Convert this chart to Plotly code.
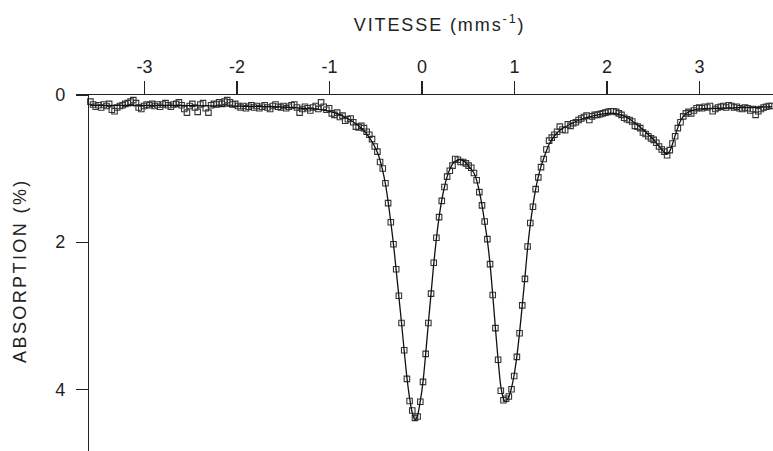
import plotly.graph_objects as go

# Velocity channels (mm/s) and measured absorption (%)
velocity = [
    -3.585, -3.556, -3.527, -3.498, -3.469, -3.440, -3.411, -3.382, -3.353, -3.324,
    -3.295, -3.266, -3.237, -3.208, -3.179, -3.150, -3.121, -3.092, -3.063, -3.034,
    -3.005, -2.976, -2.947, -2.918, -2.889, -2.860, -2.831, -2.802, -2.773, -2.744,
    -2.715, -2.686, -2.657, -2.628, -2.599, -2.570, -2.541, -2.512, -2.483, -2.454,
    -2.425, -2.396, -2.367, -2.338, -2.309, -2.280, -2.251, -2.222, -2.193, -2.164,
    -2.135, -2.106, -2.077, -2.048, -2.019, -1.990, -1.961, -1.932, -1.903, -1.874,
    -1.845, -1.816, -1.787, -1.758, -1.729, -1.700, -1.671, -1.642, -1.613, -1.584,
    -1.555, -1.526, -1.497, -1.468, -1.439, -1.410, -1.381, -1.352, -1.323, -1.294,
    -1.265, -1.236, -1.207, -1.178, -1.149, -1.120, -1.091, -1.062, -1.033, -1.004,
    -0.975, -0.946, -0.917, -0.888, -0.859, -0.830, -0.801, -0.772, -0.743, -0.714,
    -0.685, -0.656, -0.627, -0.598, -0.569, -0.540, -0.511, -0.482, -0.453, -0.424,
    -0.395, -0.366, -0.337, -0.308, -0.279, -0.250, -0.221, -0.192, -0.163, -0.134,
    -0.105, -0.076, -0.047, -0.018, 0.011, 0.040, 0.069, 0.098, 0.127, 0.156,
    0.185, 0.214, 0.243, 0.272, 0.301, 0.330, 0.359, 0.388, 0.417, 0.446,
    0.475, 0.504, 0.533, 0.562, 0.591, 0.620, 0.649, 0.678, 0.707, 0.736,
    0.765, 0.794, 0.823, 0.852, 0.881, 0.910, 0.939, 0.968, 0.997, 1.026,
    1.055, 1.084, 1.113, 1.142, 1.171, 1.200, 1.229, 1.258, 1.287, 1.316,
    1.345, 1.374, 1.403, 1.432, 1.461, 1.490, 1.519, 1.548, 1.577, 1.606,
    1.635, 1.664, 1.693, 1.722, 1.751, 1.780, 1.809, 1.838, 1.867, 1.896,
    1.925, 1.954, 1.983, 2.012, 2.041, 2.070, 2.099, 2.128, 2.157, 2.186,
    2.215, 2.244, 2.273, 2.302, 2.331, 2.360, 2.389, 2.418, 2.447, 2.476,
    2.505, 2.534, 2.563, 2.592, 2.621, 2.650, 2.679, 2.708, 2.737, 2.766,
    2.795, 2.824, 2.853, 2.882, 2.911, 2.940, 2.969, 2.998, 3.027, 3.056,
    3.085, 3.114, 3.143, 3.172, 3.201, 3.230, 3.259, 3.288, 3.317, 3.346,
    3.375, 3.404, 3.433, 3.462, 3.491, 3.520, 3.549, 3.578, 3.607, 3.636,
    3.665, 3.694, 3.723, 3.752, 3.781,
]

absorption = [
    0.09, 0.13, 0.16, 0.14, 0.17, 0.13, 0.15, 0.12, 0.20, 0.22,
    0.17, 0.15, 0.14, 0.12, 0.11, 0.09, 0.07, 0.11, 0.17, 0.19,
    0.15, 0.13, 0.14, 0.12, 0.15, 0.13, 0.16, 0.13, 0.11, 0.14,
    0.16, 0.13, 0.12, 0.10, 0.14, 0.19, 0.24, 0.15, 0.12, 0.17,
    0.23, 0.13, 0.11, 0.18, 0.24, 0.14, 0.12, 0.13, 0.10, 0.12,
    0.09, 0.07, 0.10, 0.13, 0.12, 0.15, 0.17, 0.15, 0.18, 0.16,
    0.14, 0.17, 0.15, 0.18, 0.16, 0.14, 0.17, 0.19, 0.15, 0.13,
    0.16, 0.17, 0.15, 0.18, 0.16, 0.14, 0.13, 0.17, 0.24, 0.19,
    0.16, 0.18, 0.21, 0.17, 0.15, 0.19, 0.10, 0.16, 0.20, 0.18,
    0.25, 0.27, 0.24, 0.30, 0.28, 0.35, 0.33, 0.32, 0.37, 0.43,
    0.44, 0.42, 0.45, 0.50, 0.54, 0.60, 0.70, 0.77, 0.91, 1.00,
    1.20, 1.47, 1.73, 2.03, 2.37, 2.73, 3.10, 3.47, 3.86, 4.16,
    4.29, 4.39, 4.37, 4.17, 3.90, 3.52, 3.10, 2.70, 2.28, 1.94,
    1.66, 1.44, 1.25, 1.11, 1.03, 0.96, 0.87, 0.88, 0.91, 0.91,
    0.93, 0.96, 0.99, 1.06, 1.16, 1.32, 1.50, 1.72, 1.96, 2.30,
    2.72, 3.17, 3.60, 4.02, 4.15, 4.13, 4.10, 4.00, 3.82, 3.56,
    3.24, 2.86, 2.50, 2.06, 1.74, 1.52, 1.28, 1.12, 0.98, 0.87,
    0.74, 0.62, 0.58, 0.54, 0.50, 0.43, 0.47, 0.48, 0.40, 0.42,
    0.385, 0.37, 0.34, 0.32, 0.30, 0.28, 0.34, 0.29, 0.27, 0.27,
    0.26, 0.25, 0.24, 0.23, 0.22, 0.22, 0.23, 0.25, 0.27, 0.31,
    0.33, 0.34, 0.36, 0.42, 0.43, 0.45, 0.51, 0.53, 0.56, 0.59,
    0.61, 0.65, 0.70, 0.74, 0.77, 0.82, 0.75, 0.66, 0.56, 0.45,
    0.37, 0.29, 0.25, 0.23, 0.25, 0.21, 0.18, 0.17, 0.18, 0.16,
    0.17, 0.15, 0.22, 0.19, 0.17, 0.16, 0.15, 0.17, 0.14, 0.15,
    0.17, 0.16, 0.18, 0.19, 0.17, 0.18, 0.21, 0.19, 0.27, 0.22,
    0.19, 0.17, 0.16, 0.15, 0.15,
]

# Fitted curve, read at key velocities
fit_velocity = [
    -3.585, -3.0, -2.5, -2.0, -1.6, -1.3, -1.1, -0.95, -0.85, -0.75,
    -0.65, -0.58, -0.52, -0.47, -0.43, -0.395, -0.366, -0.337, -0.308, -0.279,
    -0.250, -0.221, -0.192, -0.163, -0.134, -0.105, -0.076, -0.047, -0.018, 0.011,
    0.040, 0.069, 0.098, 0.127, 0.156, 0.185, 0.214, 0.243, 0.272, 0.301,
    0.330, 0.36, 0.40, 0.44, 0.48, 0.52, 0.562, 0.591, 0.620, 0.649,
    0.678, 0.707, 0.736, 0.765, 0.794, 0.823, 0.852, 0.881, 0.905, 0.939,
    0.968, 0.997, 1.026, 1.055, 1.084, 1.113, 1.142, 1.171, 1.200, 1.229,
    1.258, 1.287, 1.316, 1.345, 1.374, 1.403, 1.45, 1.50, 1.60, 1.70,
    1.80, 1.90, 2.00, 2.08, 2.15, 2.22, 2.30, 2.38, 2.45, 2.52,
    2.58, 2.63, 2.655, 2.68, 2.71, 2.74, 2.77, 2.80, 2.84, 2.90,
    3.00, 3.2, 3.5, 3.781,
]
fit_absorption = [
    0.14, 0.14, 0.145, 0.15, 0.16, 0.18, 0.20, 0.24, 0.29, 0.36,
    0.46, 0.56, 0.68, 0.82, 1.00, 1.21, 1.45, 1.73, 2.03, 2.38,
    2.74, 3.10, 3.48, 3.84, 4.12, 4.32, 4.42, 4.35, 4.16, 3.90,
    3.52, 3.10, 2.70, 2.30, 1.95, 1.66, 1.43, 1.25, 1.11, 1.01,
    0.94, 0.90, 0.88, 0.89, 0.93, 0.99, 1.06, 1.16, 1.31, 1.50,
    1.73, 1.98, 2.30, 2.72, 3.17, 3.60, 3.96, 4.13, 4.17, 4.10,
    3.98, 3.80, 3.55, 3.23, 2.86, 2.48, 2.08, 1.76, 1.50, 1.28,
    1.11, 0.97, 0.86, 0.76, 0.67, 0.61, 0.53, 0.47, 0.40, 0.34,
    0.30, 0.27, 0.25, 0.25, 0.27, 0.31, 0.38, 0.46, 0.54, 0.63,
    0.72, 0.79, 0.80, 0.76, 0.66, 0.54, 0.43, 0.34, 0.27, 0.22,
    0.19, 0.18, 0.17, 0.16,
]

x_ticks = [-3, -2, -1, 0, 1, 2, 3]
y_ticks = [0, 2, 4]

FONT = "Liberation Sans, Arial, Helvetica, sans-serif"
INK = "#222222"

fig = go.Figure()
fig.add_trace(go.Scatter(
    x=velocity, y=absorption, mode="markers",
    marker=dict(symbol="square-open", size=5.5, color="#333333",
                line=dict(width=1.1, color="#333333")),
    cliponaxis=False, showlegend=False, hoverinfo="skip",
))
fig.add_trace(go.Scatter(
    x=fit_velocity, y=fit_absorption, mode="lines",
    line=dict(color="#111111", width=1.3, shape="spline", smoothing=0.8),
    showlegend=False, hoverinfo="skip",
))

fig.update_layout(
    width=773, height=451,
    margin=dict(l=89, r=0, t=95, b=0, pad=0),
    paper_bgcolor="white", plot_bgcolor="white",
    font=dict(family=FONT, size=18, color=INK),
    xaxis=dict(
        side="top", range=[-3.6, 3.795],
        tickvals=x_ticks, ticktext=[str(v) for v in x_ticks],
        ticks="outside", ticklen=13, tickwidth=1.2, tickcolor=INK,
        showline=True, linecolor=INK, linewidth=1.2,
        showgrid=False, zeroline=False, ticklabelstandoff=1,
        tickfont=dict(family=FONT, size=18, color=INK),
    ),
    yaxis=dict(
        range=[4.84, 0],
        tickvals=y_ticks, ticktext=[str(v) for v in y_ticks],
        ticks="outside", ticklen=12, tickwidth=1.2, tickcolor=INK,
        showline=True, linecolor=INK, linewidth=1.2,
        showgrid=False, zeroline=False, ticklabelstandoff=7,
        tickfont=dict(family=FONT, size=18, color=INK),
    ),
    annotations=[
        dict(text="VITESSE (mms<sup>-1</sup>)", xref="paper", yref="paper",
             x=0.5117, y=1.2022, xanchor="center", yanchor="middle",
             showarrow=False, font=dict(family=FONT, size=18, color=INK)),
        dict(text="ABSORPTION (%)", xref="paper", yref="paper",
             x=-0.1009, y=0.508, xanchor="center", yanchor="middle",
             textangle=-90, showarrow=False,
             font=dict(family=FONT, size=18, color=INK)),
    ],
)

post = """
document.body.style.margin='0';
document.body.style.padding='0';
var ann = document.querySelectorAll('.annotation-text');
if (ann.length > 0) ann[0].style.letterSpacing='1.9px';
if (ann.length > 1) ann[1].style.letterSpacing='2.4px';
"""

fig.write_html("out.html", post_script=post,
               config={"displayModeBar": False, "staticPlot": True})
